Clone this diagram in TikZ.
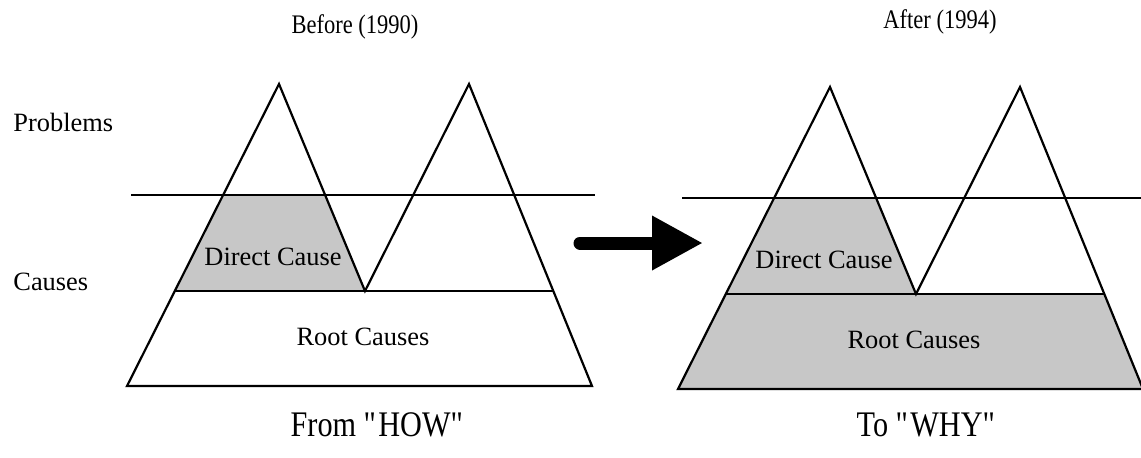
\documentclass[tikz,border=0pt]{standalone}
\usepackage{fontspec}
\setmainfont{Liberation Serif}
\newfontfamily\condserif[FakeStretch=0.84]{Liberation Serif}
\usepackage{xcolor}
\usetikzlibrary{arrows.meta}

\tikzset{
  peakline/.style={line width=1.1pt, line join=miter},
  stipple/.style={fill=black!22},
  lbl/.style={font=\fontsize{13.2}{15}\selectfont, inner sep=0pt},
  title/.style={font=\condserif\fontsize{13.4}{15}\selectfont, inner sep=0pt},
  motto/.style={font=\condserif\fontsize{18}{20}\selectfont, inner sep=0pt},
  bigarrow/.style={line width=6.5pt, line cap=round, -{Triangle[length=25.5pt,width=25.5pt]}}
}

\begin{document}
\begin{tikzpicture}[x=0.5pt, y=-0.5pt]
        \clip (0,0) rectangle (1141,457);
        \fill[white] (0,0) rectangle (1141,457);

        % Row labels
        \node[lbl, anchor=west] (problems) at (13,122) {Problems};
        \node[lbl, anchor=west] (causes) at (13,282) {Causes};

        % Before (1990)
        \node[title] (before) at (355,27) {Before (1990)};
        \fill[stipple] (223.1,195) -- (325.1,195) -- (365,291) -- (174.8,291) -- cycle;
        \draw[peakline] (279,84) -- (127,386) -- (592,386) -- (469,84) -- (365,291) -- cycle;
        \draw[peakline] (131,195) -- (595,195);
        \draw[peakline] (174.8,291) -- (553.3,291);
        \node[lbl] (directL) at (273,257) {Direct Cause};
        \node[lbl] (rootL) at (363,337) {Root Causes};
        \node[motto] (how) at (378,425) {From \textquotedbl HOW\textquotedbl};

        % Arrow
        \coordinate (arrS) at (580,243);
        \coordinate (arrE) at (703,243);
        \draw[bigarrow] (arrS) -- (arrE);

        % After (1994)
        \begin{scope}[shift={(551,3)}]
        \fill[stipple] (223.1,195) -- (325.1,195) -- (365,291) -- (174.8,291) -- cycle;
        \fill[stipple] (174.8,291) -- (553.3,291) -- (592,386) -- (127,386) -- cycle;
        \draw[peakline] (279,84) -- (127,386) -- (592,386) -- (469,84) -- (365,291) -- cycle;
        \draw[peakline] (131,195) -- (595,195);
        \draw[peakline] (174.8,291) -- (553.3,291);
        \node[lbl] (directR) at (273,257) {Direct Cause};
        \node[lbl] (rootR) at (363,337) {Root Causes};
        \end{scope}
        \node[title] (after) at (940,22) {After (1994)};
        \node[motto] (why) at (927,425) {To \textquotedbl WHY\textquotedbl};
    \end{tikzpicture}
\end{document}
